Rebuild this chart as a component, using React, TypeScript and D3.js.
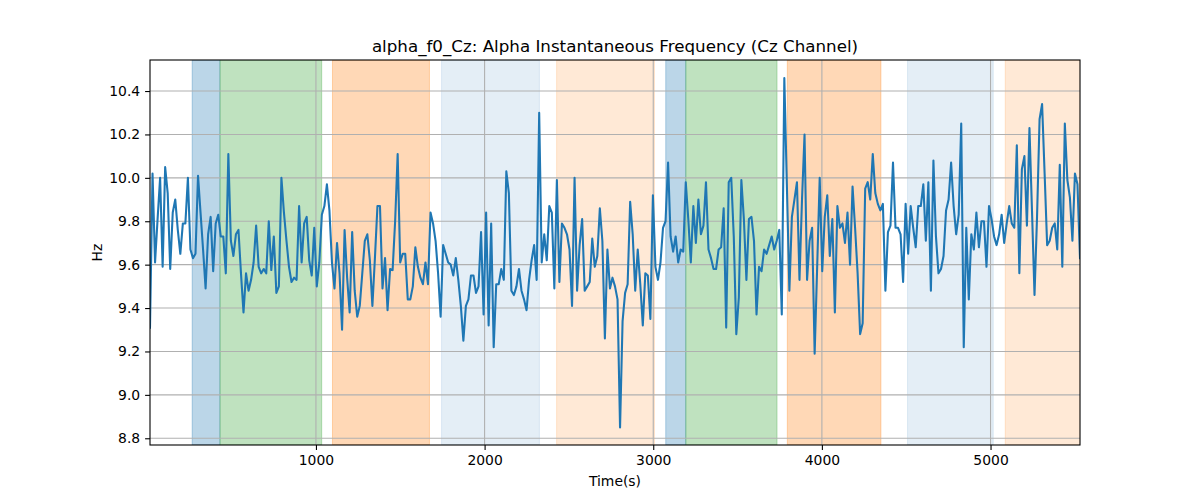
import React, { useEffect, useRef } from "react";
import * as d3 from "d3";

// instantaneous alpha frequency, one value per epoch
const freqValues: number[] = [
  9.31, 10.02, 9.61, 9.81, 10.0, 9.59, 10.05, 9.93, 9.58, 9.84, 9.9, 9.76, 9.65, 9.79, 9.79, 10.0,
  9.67, 9.63, 9.65, 10.01, 9.84, 9.67, 9.49, 9.74, 9.82, 9.57, 9.79, 9.83, 9.73, 9.73, 9.56, 10.11,
  9.71, 9.64, 9.74, 9.76, 9.56, 9.38, 9.56, 9.48, 9.53, 9.61, 9.78, 9.59, 9.56, 9.58, 9.56, 9.8,
  9.575, 9.73, 9.47, 9.5, 10.0, 9.84, 9.71, 9.59, 9.52, 9.54, 9.53, 9.87, 9.61, 9.79, 9.82, 9.62,
  9.55, 9.77, 9.5, 9.61, 9.83, 9.87, 9.97, 9.85, 9.61, 9.49, 9.7, 9.56, 9.3, 9.76, 9.54, 9.38,
  9.75, 9.48, 9.36, 9.41, 9.56, 9.71, 9.74, 9.62, 9.41, 9.63, 9.87, 9.87, 9.49, 9.63, 9.39, 9.58,
  9.575, 9.8, 10.11, 9.61, 9.65, 9.65, 9.44, 9.44, 9.5, 9.68, 9.59, 9.54, 9.51, 9.61, 9.51, 9.84,
  9.79, 9.71, 9.56, 9.36, 9.69, 9.65, 9.61, 9.6, 9.55, 9.63, 9.53, 9.41, 9.25, 9.41, 9.44, 9.55,
  9.55, 9.47, 9.5, 9.75, 9.37, 9.84, 9.32, 9.79, 9.22, 9.51, 9.51, 9.58, 9.53, 10.03, 9.93,
  9.48, 9.46, 9.5, 9.58, 9.48, 9.44, 9.39, 9.53, 9.62, 9.69, 9.53, 10.3, 9.61, 9.74, 9.62, 9.87,
  9.84, 9.49, 9.99, 9.52, 9.79, 9.77, 9.74, 9.67, 9.41, 10.0, 9.48, 9.69, 9.81, 9.48, 9.5, 9.52,
  9.72, 9.59, 9.64, 9.86, 9.71, 9.26, 9.67, 9.49, 9.54, 9.5, 9.44, 8.85, 9.34, 9.47, 9.51, 9.89,
  9.74, 9.48, 9.67, 9.51, 9.32, 9.56, 9.55, 9.35, 9.92, 9.59, 9.53, 9.61, 9.77, 9.8, 10.07, 9.73,
  9.66, 9.73, 9.61, 9.67, 9.66, 9.98, 9.81, 9.61, 9.87, 9.7, 9.9, 9.74, 9.78, 9.98, 9.67, 9.63,
  9.58, 9.58, 9.67, 9.68, 9.86, 9.31, 9.98, 10.0, 9.73, 9.28, 9.45, 9.99, 9.81, 9.53, 9.81,
  9.82, 9.71, 9.37, 9.59, 9.57, 9.67, 9.65, 9.69, 9.73, 9.67, 9.71, 9.76, 9.37, 10.46, 9.97, 9.48,
  9.82, 9.9, 9.98, 9.53, 9.9, 10.2, 9.53, 9.71, 9.77, 9.19, 9.59, 10.0, 9.57, 9.82, 9.92, 9.64,
  9.81, 9.38, 9.87, 9.77, 9.79, 9.7, 9.84, 9.6, 9.96, 9.77, 9.56, 9.28, 9.33, 9.95, 9.98, 9.9,
  10.11, 9.93, 9.88, 9.85, 9.88, 9.48, 9.75, 9.78, 10.07, 9.77, 9.77, 9.74, 9.52, 9.88, 9.65, 9.87,
  9.77, 9.68, 9.87, 9.87, 9.97, 9.71, 9.98, 9.48, 10.08, 9.73, 9.56, 9.58, 9.64, 9.85, 9.9, 10.07,
  9.87, 9.74, 9.83, 10.25, 9.22, 9.77, 9.44, 9.74, 9.67, 9.84, 9.68, 9.8, 9.8, 9.59, 9.87,
  9.81, 9.73, 9.69, 9.74, 9.83, 9.7, 9.79, 9.87, 9.79, 9.77, 10.15, 9.56, 10.04, 10.1, 9.78, 10.23,
  9.85, 9.46, 9.82, 10.27, 10.34, 10.02, 9.69, 9.71, 9.77, 9.79, 9.67, 10.06, 9.59, 10.25, 9.99, 9.91,
  9.71, 10.02, 9.97, 9.63,
];
const timeStart = 16; // seconds
const timeStep = 14.985; // seconds between epochs
const times = freqValues.map((_, i) => timeStart + i * timeStep);

// shaded segments (seconds)
const spanStart = [266, 431, 1098, 1745, 2427, 3074, 3193, 3795, 4508, 5087];
const spanEnd = [431, 1034, 1673, 2325, 3007, 3193, 3734, 4350, 5016, 5600];
const spanKind = ["blue", "green", "orange", "blueFaint", "orangeFaint", "blue", "green", "orange", "blueFaint", "orangeFaint"];

const xTicks = [1000, 2000, 3000, 4000, 5000];
const yTicks = [8.8, 9.0, 9.2, 9.4, 9.6, 9.8, 10.0, 10.2, 10.4];

const titleText = "alpha_f0_Cz: Alpha Instantaneous Frequency (Cz Channel)";

const kindStyle: Record<string, { color: string; alpha: number }> = {
  blue: { color: "#1f77b4", alpha: 0.3 },
  green: { color: "#2ca02c", alpha: 0.3 },
  orange: { color: "#ff7f0e", alpha: 0.3 },
  blueFaint: { color: "#1f77b4", alpha: 0.12 },
  orangeFaint: { color: "#ff7f0e", alpha: 0.17 },
};

const App: React.FC = () => {
  const ref = useRef<SVGSVGElement | null>(null);
  const width = 1200,
    height = 500,
    margin = { top: 60, right: 120, bottom: 55, left: 150 };
  const font = "'DejaVu Sans', sans-serif";

  useEffect(() => {
    const svg = d3.select(ref.current);
    svg.selectAll("*").remove();

    const x = d3
      .scaleLinear()
      .domain([times[0], times[times.length - 1]])
      .range([margin.left, width - margin.right]);
    const y = d3
      .scaleLinear()
      .domain([8.769, 10.543])
      .range([height - margin.bottom, margin.top]);

    const top = margin.top,
      bottom = height - margin.bottom,
      left = margin.left,
      right = width - margin.right;

    svg
      .append("defs")
      .append("clipPath")
      .attr("id", "plot-clip")
      .append("rect")
      .attr("x", left)
      .attr("y", top)
      .attr("width", right - left)
      .attr("height", bottom - top);

    const plot = svg.append("g").attr("clip-path", "url(#plot-clip)");

    // shaded spans
    plot
      .selectAll("rect.span")
      .data(spanStart.map((s, i) => ({ s, e: spanEnd[i], k: kindStyle[spanKind[i]] })))
      .join("rect")
      .attr("class", "span")
      .attr("x", (d) => x(d.s))
      .attr("y", top)
      .attr("width", (d) => x(d.e) - x(d.s))
      .attr("height", bottom - top)
      .attr("fill", (d) => d.k.color)
      .attr("fill-opacity", (d) => d.k.alpha)
      .attr("stroke", (d) => d.k.color)
      .attr("stroke-opacity", (d) => d.k.alpha)
      .attr("stroke-width", 1);

    // grid
    plot
      .selectAll("line.gx")
      .data(xTicks)
      .join("line")
      .attr("x1", (d) => x(d))
      .attr("x2", (d) => x(d))
      .attr("y1", top)
      .attr("y2", bottom)
      .attr("stroke", "#b0b0b0")
      .attr("stroke-width", 1.1);
    plot
      .selectAll("line.gy")
      .data(yTicks)
      .join("line")
      .attr("x1", left)
      .attr("x2", right)
      .attr("y1", (d) => y(d))
      .attr("y2", (d) => y(d))
      .attr("stroke", "#b0b0b0")
      .attr("stroke-width", 1.1);

    const line = d3
      .line<number>()
      .x((_, i) => x(times[i]))
      .y((d) => y(d));

    plot
      .append("path")
      .datum(freqValues)
      .attr("fill", "none")
      .attr("stroke", "#1f77b4")
      .attr("stroke-width", 2.08)
      .attr("stroke-linejoin", "round")
      .attr("stroke-linecap", "square")
      .attr("d", line);

    // axes
    const xAxis = svg
      .append("g")
      .attr("transform", `translate(0,${bottom})`)
      .call(d3.axisBottom(x).tickValues(xTicks).tickSize(4.9).tickPadding(4.9).tickFormat(d3.format("d")));
    const yAxis = svg
      .append("g")
      .attr("transform", `translate(${left},0)`)
      .call(d3.axisLeft(y).tickValues(yTicks).tickSize(4.9).tickPadding(4.9).tickFormat(d3.format(".1f")));
    [xAxis, yAxis].forEach((g) => {
      g.select(".domain").remove();
      g.selectAll("line").attr("stroke", "#000").attr("stroke-width", 1.1);
      g.selectAll("text").attr("fill", "#000").style("font-family", font).style("font-size", "13.9px");
    });

    svg
      .append("rect")
      .attr("x", left)
      .attr("y", top)
      .attr("width", right - left)
      .attr("height", bottom - top)
      .attr("fill", "none")
      .attr("stroke", "#000")
      .attr("stroke-width", 1.1);

    svg
      .append("text")
      .attr("x", (left + right) / 2)
      .attr("y", top - 8.5)
      .attr("text-anchor", "middle")
      .style("font-family", font)
      .style("font-size", "16.7px")
      .text(titleText);

    svg
      .append("text")
      .attr("x", (left + right) / 2)
      .attr("y", 486)
      .attr("text-anchor", "middle")
      .style("font-family", font)
      .style("font-size", "13.9px")
      .text("Time(s)");

    svg
      .append("text")
      .attr("transform", `translate(102,${(top + bottom) / 2}) rotate(-90)`)
      .attr("text-anchor", "middle")
      .style("font-family", font)
      .style("font-size", "13.9px")
      .text("Hz");
  }, []);

  return (
    <div style={{ position: "fixed", left: 0, top: 0, width, height, background: "#fff" }}>
      <svg width={width} height={height} ref={ref}></svg>
    </div>
  );
};

export default App;
